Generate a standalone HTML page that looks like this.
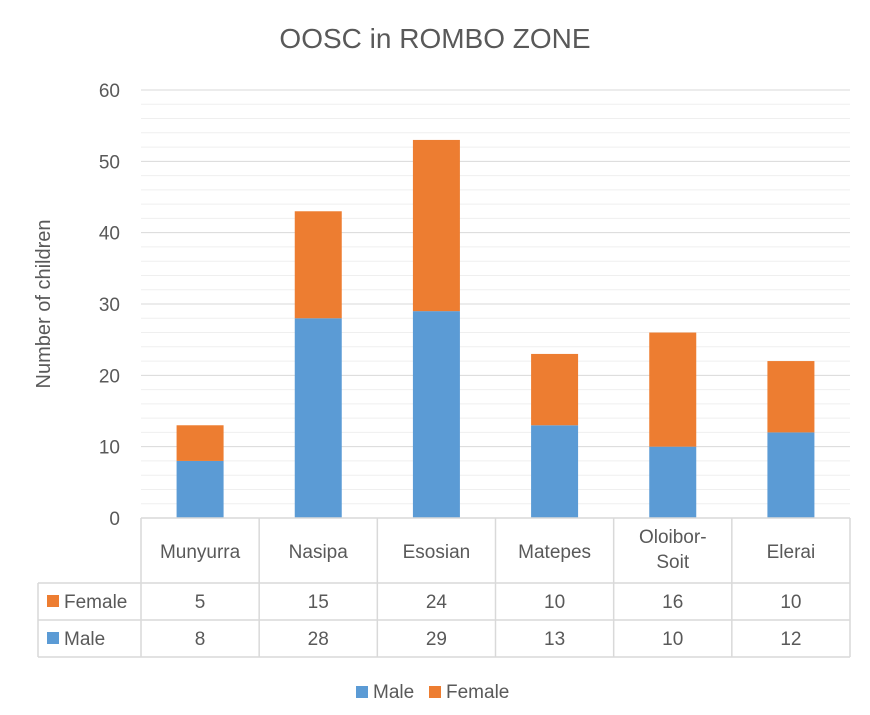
<!DOCTYPE html>
<html><head><meta charset="utf-8"><style>
body{margin:0;background:#fff;font-family:"Liberation Sans",sans-serif}
svg text{font-family:"Liberation Sans",sans-serif;fill:#595959}
</style></head><body>
<svg id="c" width="870" height="710"></svg>
<script>
const categories=["Munyurra","Nasipa","Esosian","Matepes","Oloibor-Soit","Elerai"];
const male=[8,28,29,13,10,12];
const female=[5,15,24,10,16,10];
const yTicks=[0,10,20,30,40,50,60];
const NS="http://www.w3.org/2000/svg";
const svg=document.getElementById('c');
const x0=141,x1=850,y0=518,yTop=90,yMax=60;
const bw=(x1-x0)/categories.length;
function y(v){return y0-(v/yMax)*(y0-yTop);}
function xc(i){return x0+bw*(i+0.5);}
function el(t,a,txt){const e=document.createElementNS(NS,t);for(const k in a)e.setAttribute(k,a[k]);if(txt!=null)e.textContent=txt;svg.appendChild(e);return e;}
let t=el('text',{x:435,y:48,'text-anchor':'middle','font-size':28},'OOSC in ROMBO ZONE');


for(let v=0;v<=yMax;v+=2){
 const g=el('line',{x1:x0,x2:x1,y1:y(v),y2:y(v),stroke:v%10===0?'#d9d9d9':'#efefef','stroke-width':1});
 
 
}
yTicks.forEach(v=>{
 const l=el('text',{x:120,y:y(v)+7,'text-anchor':'end','font-size':19},String(v));
 
 
});
t=el('text',{transform:'translate(50,304) rotate(-90)','text-anchor':'middle','font-size':20},'Number of children');


categories.forEach((c,i)=>{
 const bx=xc(i)-23.5;
 const m=el('rect',{x:bx,y:y(male[i]),width:47,height:y0-y(male[i]),fill:'#5b9bd5'});
 
 
 const f=el('rect',{x:bx,y:y(male[i]+female[i]),width:47,height:y(male[i])-y(male[i]+female[i]),fill:'#ed7d31'});
 
 
});
// table
const rows=[518,583,620,657];
const tl=38,lc='#d9d9d9';
el('line',{x1:x0,x2:x1,y1:518,y2:518,stroke:lc,'stroke-width':1.5});
[583,620,657].forEach(r=>el('line',{x1:tl,x2:x1,y1:r,y2:r,stroke:lc,'stroke-width':1.5}));
el('line',{x1:tl,x2:tl,y1:583,y2:657,stroke:lc,'stroke-width':1.5});
for(let i=0;i<=categories.length;i++)el('line',{x1:x0+bw*i,x2:x0+bw*i,y1:518,y2:657,stroke:lc,'stroke-width':1.5});
categories.forEach((c,i)=>{
 const parts=c==='Oloibor-Soit'?['Oloibor-','Soit']:[c];
 parts.forEach((p,j)=>{
  const l=el('text',{x:xc(i),y:(parts.length===1?558:543+j*25),'text-anchor':'middle','font-size':19},p);
  
  
 });
 let a=el('text',{x:xc(i),y:608,'text-anchor':'middle','font-size':19},String(female[i]));
 
 
 a=el('text',{x:xc(i),y:645,'text-anchor':'middle','font-size':19},String(male[i]));
 
 
});
el('rect',{x:47,y:595,width:12,height:12,fill:'#ed7d31'});
t=el('text',{x:64,y:608,'font-size':19},'Female');
el('rect',{x:47,y:632,width:12,height:12,fill:'#5b9bd5'});
t=el('text',{x:64,y:645,'font-size':19},'Male');
// legend
el('rect',{x:356,y:686,width:12,height:12,fill:'#5b9bd5'});
t=el('text',{x:373,y:698,'font-size':19},'Male');
el('rect',{x:429,y:686,width:12,height:12,fill:'#ed7d31'});
t=el('text',{x:446,y:698,'font-size':19},'Female');
</script>
</body></html>
